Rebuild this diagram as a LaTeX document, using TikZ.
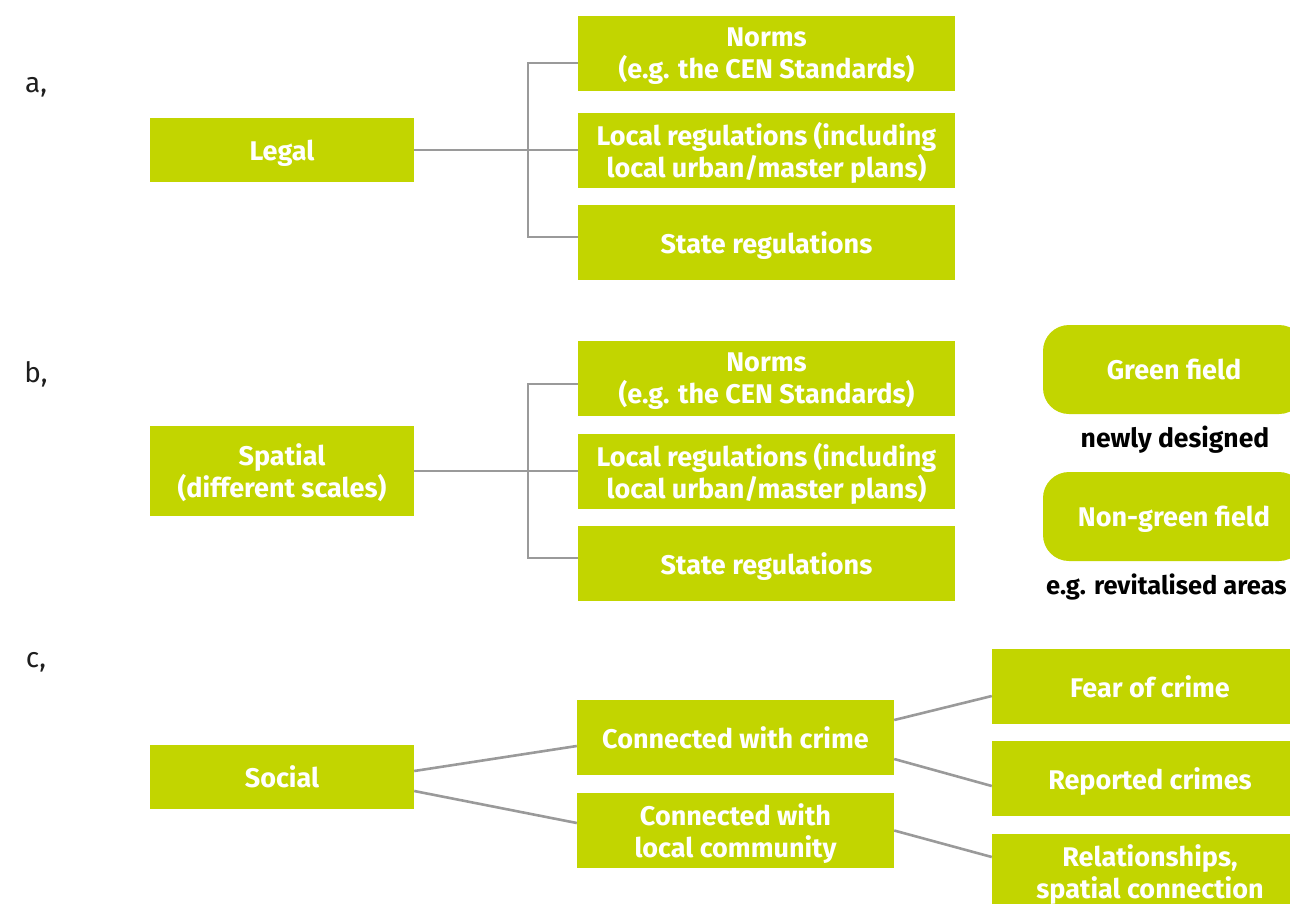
\documentclass[tikz,border=0pt]{standalone}
\usepackage{fontspec}
\setmainfont{Fira Sans}
\definecolor{lime}{HTML}{C2D500}
\definecolor{conn}{HTML}{9A9A9A}
\definecolor{labc}{HTML}{1E1E1E}
\begin{document}
\begin{tikzpicture}[x=1pt,y=-1pt,
  box/.style={fill=lime,text=white,font=\fontsize{27}{32}\selectfont\bfseries,inner sep=0pt,text depth=0pt,align=center,minimum width=377pt,minimum height=75pt},
  lbox/.style={box,minimum width=264pt,minimum height=64pt},
  rbox/.style={box,minimum width=262pt,minimum height=89pt,rounded corners=26pt},
  cbox/.style={box,minimum width=317pt},
  fbox/.style={box,minimum width=316pt},
  seclab/.style={text=labc,font=\fontsize{28}{32}\selectfont,inner sep=0pt,text depth=0pt},
  note/.style={text=black,font=\fontsize{26.5}{30}\selectfont\bfseries,inner sep=0pt,text depth=0pt},
  link/.style={draw=conn,line width=2.6pt}]
\useasboundingbox (0,0) rectangle (1290,903);
\clip (0,0) rectangle (1290,903);
% section labels
\node[seclab] (la) at (36,85) {a,};
\node[seclab] (lb) at (36,372) {b,};
\node[seclab] (lc) at (36,660) {c,};
% a
\node[lbox] (legal) at (282,150) {Legal};
\node[box] (aN) at (766.5,53.5) {Norms\\(e.g. the CEN Standards)};
\node[box] (aL) at (766.5,150) {Local regulations (including\\local urban/master plans)};
\node[box] (aS) at (766.5,242.5) {State regulations};
\coordinate (a1) at (528,63);
\coordinate (a3) at (528,237);
\draw[link] (legal.east) -- (aL.west);
\draw[link] (aN.west|-a1) -- (a1) -- (a3) -- (aS.west|-a3);
% b
\node[lbox,minimum height=90pt] (spatial) at (282,471) {Spatial\\(different scales)};
\node[box] (bN) at (766.5,378.5) {Norms\\(e.g. the CEN Standards)};
\node[box] (bL) at (766.5,471) {Local regulations (including\\local urban/master plans)};
\node[box] (bS) at (766.5,563.5) {State regulations};
\coordinate (b1) at (528,384);
\coordinate (b3) at (528,558);
\draw[link] (spatial.east) -- (bL.west);
\draw[link] (bN.west|-b1) -- (b1) -- (b3) -- (bS.west|-b3);
\node[rbox] (gf) at (1174,369.5) {Green field};
\node[note] (nd) at (1175,437) {newly designed};
\node[rbox] (ngf) at (1174,516.5) {Non-green field};
\node[note,font=\fontsize{25.5}{30}\selectfont\bfseries,anchor=west] (ra) at (1046,584) {e.g. revitalised areas};
% c
\node[lbox] (social) at (282,777) {Social};
\node[cbox] (cc) at (735.5,737.5) {Connected with crime};
\node[cbox] (lcom) at (735.5,830.5) {Connected with\\local community};
\node[fbox] (fear) at (1150,686.5) {Fear of crime};
\node[fbox] (rep) at (1150,778.5) {Reported crimes};
\node[fbox] (rel) at (1150,871.5) {Relationships,\\spatial connection};
\draw[link] ([yshift=6pt]social.east) -- ([yshift=-8.5pt]cc.west);
\draw[link] ([yshift=-14pt]social.east) -- ([yshift=7.5pt]lcom.west);
\draw[link] ([yshift=17.5pt]cc.east) -- ([yshift=-9.5pt]fear.west);
\draw[link] ([yshift=-21.5pt]cc.east) -- ([yshift=-7.5pt]rep.west);
\draw[link] (lcom.east) -- ([yshift=14.5pt]rel.west);
\end{tikzpicture}
\end{document}
